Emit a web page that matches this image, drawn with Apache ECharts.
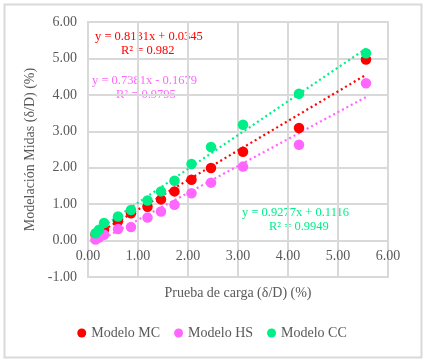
<!DOCTYPE html>
<html>
<head>
<meta charset="utf-8">
<script src="https://cdn.jsdelivr.net/npm/echarts@6/dist/echarts.min.js"></script>
<style>
html,body{margin:0;padding:0;background:#fff;}
#c{width:424px;height:359px;}
</style>
</head>
<body>
<div id="c"></div>
<script>
// Data
var xLoad = [0.15, 0.22, 0.32, 0.60, 0.86, 1.19, 1.46, 1.73, 2.07, 2.46, 3.10, 4.22, 5.56];
var yMC   = [0.16, 0.22, 0.30, 0.53, 0.75, 0.93, 1.13, 1.35, 1.67, 1.99, 2.44, 3.09, 4.97];
var yHS   = [0.03, 0.08, 0.16, 0.32, 0.37, 0.63, 0.80, 0.98, 1.30, 1.59, 2.03, 2.63, 4.32];
var yCC   = [0.20, 0.30, 0.48, 0.66, 0.84, 1.10, 1.35, 1.64, 2.10, 2.57, 3.18, 4.03, 5.14];

// Trendline end points (x, y)
var trendX  = [0.15, 5.56];
var trendMC = [0.16, 4.55];
var trendHS = [-0.06, 3.94];
var trendCC = [0.25, 5.27];

var seriesNames = ['Modelo MC', 'Modelo HS', 'Modelo CC'];
var eqMC = ['y = 0.8131x + 0.0345', 'R² = 0.982'];
var eqHS = ['y = 0.7381x - 0.1679', 'R² = 0.9795'];
var eqCC = ['y = 0.9277x + 0.1116', 'R² = 0.9949'];

var xTitle = 'Prueba de carga (δ/D) (%)';
var yTitle = 'Modelación Midas (δ/D) (%)';

var cRed = '#ff0000', cPink = '#ff66ff', cGreen = '#00ee88';
var FONT = '"Liberation Serif", "Times New Roman", serif';
var GRAY = '#595959';

function pairs(xs, ys){ return xs.map(function(x,i){ return [x, ys[i]]; }); }

var chart = echarts.init(document.getElementById('c'), null, {renderer:'canvas'});

function trend(data, color){
  return {type:'line', data: pairs(trendX, data), symbol:'none', silent:true,
    lineStyle:{color:color, width:2.2, type:[2,3]}, z:3, legendHoverLink:false};
}
function scat(name, ys, color){
  return {name:name, type:'scatter', data: pairs(xLoad, ys), symbol:'circle', symbolSize:10.5,
    itemStyle:{color:color, opacity:1}, z:4};
}

chart.setOption({
  animation:false,
  backgroundColor:'#fff',
  grid:{left:88, top:22, width:300, height:255, show:true, borderColor:'#d9d9d9', borderWidth:2},
  xAxis:{type:'value', min:0, max:6, interval:1,
    axisLine:{show:true, onZero:false, lineStyle:{color:'#d9d9d9', width:2}},
    axisTick:{show:false},
    splitLine:{show:true, lineStyle:{color:'#d9d9d9', width:2}},
    axisLabel:{color:GRAY, fontFamily:FONT, fontSize:14, margin:-28, formatter:function(v){return v.toFixed(2);}},
    name: xTitle, nameLocation:'middle', nameGap:9,
    nameTextStyle:{color:GRAY, fontFamily:FONT, fontSize:14}
  },
  yAxis:{type:'value', min:-1, max:6, interval:1,
    axisLine:{show:true, lineStyle:{color:'#d9d9d9', width:2}},
    axisTick:{show:false},
    splitLine:{show:true, lineStyle:{color:'#d9d9d9', width:2}},
    axisLabel:{color:GRAY, fontFamily:FONT, fontSize:14, margin:11, formatter:function(v){return v.toFixed(2);}},
    name: yTitle, nameLocation:'middle', nameGap:48,
    nameTextStyle:{color:GRAY, fontFamily:FONT, fontSize:14}
  },
  legend:{data:seriesNames, bottom:14, left:'center', icon:'circle', itemWidth:9, itemHeight:9, itemGap:14,
    textStyle:{color:GRAY, fontFamily:FONT, fontSize:14}},
  graphic:[
    {type:'rect', left:2, top:2, shape:{width:417, height:353}, style:{fill:'none', stroke:'#d9d9d9', lineWidth:2}, silent:true, z:-1},
    {type:'text', left:95, top:30, style:{text:eqMC[0], fill:cRed, font:'12.5px '+FONT}},
    {type:'text', left:121, top:44, style:{text:eqMC[1], fill:cRed, font:'12.5px '+FONT}},
    {type:'text', left:92, top:74, style:{text:eqHS[0], fill:cPink, font:'12.5px '+FONT}},
    {type:'text', left:116, top:88, style:{text:eqHS[1], fill:cPink, font:'12.5px '+FONT}},
    {type:'text', left:242, top:206, style:{text:eqCC[0], fill:cGreen, font:'12.5px '+FONT}},
    {type:'text', left:269, top:220, style:{text:eqCC[1], fill:cGreen, font:'12.5px '+FONT}}
  ],
  series:[
    trend(trendMC, cRed), trend(trendHS, cPink), trend(trendCC, cGreen),
    scat(seriesNames[0], yMC, cRed), scat(seriesNames[1], yHS, cPink), scat(seriesNames[2], yCC, cGreen)
  ]
});
</script>
</body>
</html>
